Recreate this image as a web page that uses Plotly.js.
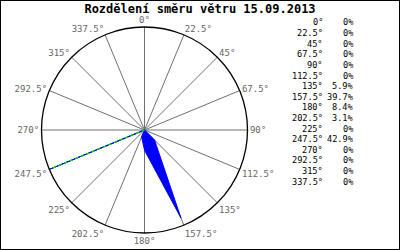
<!DOCTYPE html>
<html>
<head>
<meta charset="utf-8">
<script src="https://cdn.plot.ly/plotly-3.0.1.min.js"></script>
<style>
html,body{margin:0;padding:0;background:#fff;}
#wrap{position:relative;width:400px;height:250px;}
#chart{width:400px;height:250px;}
#frame{position:absolute;left:0;top:0;width:400px;height:250px;box-sizing:border-box;border:1px solid #000;pointer-events:none;}
</style>
</head>
<body>
<div id="wrap"><div id="chart"></div><div id="frame"></div></div>
<script>
const directions = [0, 22.5, 45, 67.5, 90, 112.5, 135, 157.5, 180, 202.5, 225, 247.5, 270, 292.5, 315, 337.5];
const directionLabels = ["0°", "22.5°", "45°", "67.5°", "90°", "112.5°", "135°", "157.5°", "180°", "202.5°", "225°", "247.5°", "270°", "292.5°", "315°", "337.5°"];
const percents = [0, 0, 0, 0, 0, 0, 5.9, 39.7, 8.4, 3.1, 0, 42.9, 0, 0, 0, 0];
const percentLabels = ["0%", "0%", "0%", "0%", "0%", "0%", "5.9%", "39.7%", "8.4%", "3.1%", "0%", "42.9%", "0%", "0%", "0%", "0%"];
const titleText = "Rozdělení směru větru 15.09.2013";

const mono = "DejaVu Sans Mono, Liberation Mono, monospace";

// closed polygon
const rPoly = percents.concat([percents[0]]);
const tPoly = directions.concat([directions[0]]);

const traces = [{
  type: 'scatterpolar',
  r: rPoly, theta: tPoly,
  mode: 'lines',
  fill: 'toself',
  fillcolor: '#0000ff',
  line: {color: '#0000ff', width: 1},
  hoverinfo: 'skip',
  showlegend: false
}];

// isolated spikes drawn with a green dotted overlay
const n = directions.length;
for (let i = 0; i < n; i++) {
  const prev = percents[(i - 1 + n) % n], next = percents[(i + 1) % n];
  if (percents[i] > 0 && prev === 0 && next === 0) {
    traces.push({
      type: 'scatterpolar',
      r: [0, percents[i]], theta: [directions[i], directions[i]],
      mode: 'lines',
      line: {color: '#00dd00', width: 1.5, dash: 'dot'},
      hoverinfo: 'skip', showlegend: false
    });
  }
}

const annotations = [];
const rowTop = 22.5, rowStep = 10.6;
for (let i = 0; i < n; i++) {
  const ypx = rowTop + i * rowStep;
  annotations.push({
    xref: 'paper', yref: 'paper', x: 325 / 400, y: 1 - ypx / 250,
    xanchor: 'right', yanchor: 'middle', showarrow: false,
    text: directionLabels[i], font: {family: mono, size: 8.6, color: '#000'}
  });
  annotations.push({
    xref: 'paper', yref: 'paper', x: 356 / 400, y: 1 - ypx / 250,
    xanchor: 'right', yanchor: 'middle', showarrow: false,
    text: percentLabels[i], font: {family: mono, size: 8.6, color: '#000'}
  });
}

const layout = {
  width: 400, height: 250,
  margin: {l: 0, r: 0, t: 0, b: 0},
  paper_bgcolor: '#fff',
  showlegend: false,
  title: {
    text: '<b>' + titleText + '</b>',
    font: {family: mono, size: 12, color: '#000'},
    x: 0.5, xanchor: 'center', y: 1 - 9 / 250, yanchor: 'middle'
  },
  polar: {
    domain: {x: [41.5 / 400, 247.5 / 400], y: [1 - 233 / 250, 1 - 27 / 250]},
    bgcolor: '#fff',
    angularaxis: {
      rotation: 90, direction: 'clockwise',
      tickmode: 'array', tickvals: directions, ticktext: directionLabels,
      showgrid: true, gridcolor: '#707070', gridwidth: 1,
      showline: true, linecolor: '#000', linewidth: 1.3,
      ticks: '', tickfont: {family: mono, size: 9, color: '#666'}
    },
    radialaxis: {
      range: [0, 42.9], showgrid: false, showline: false,
      showticklabels: false, ticks: ''
    }
  },
  annotations: annotations
};

Plotly.newPlot('chart', traces, layout, {staticPlot: true, displayModeBar: false});
</script>
</body>
</html>
